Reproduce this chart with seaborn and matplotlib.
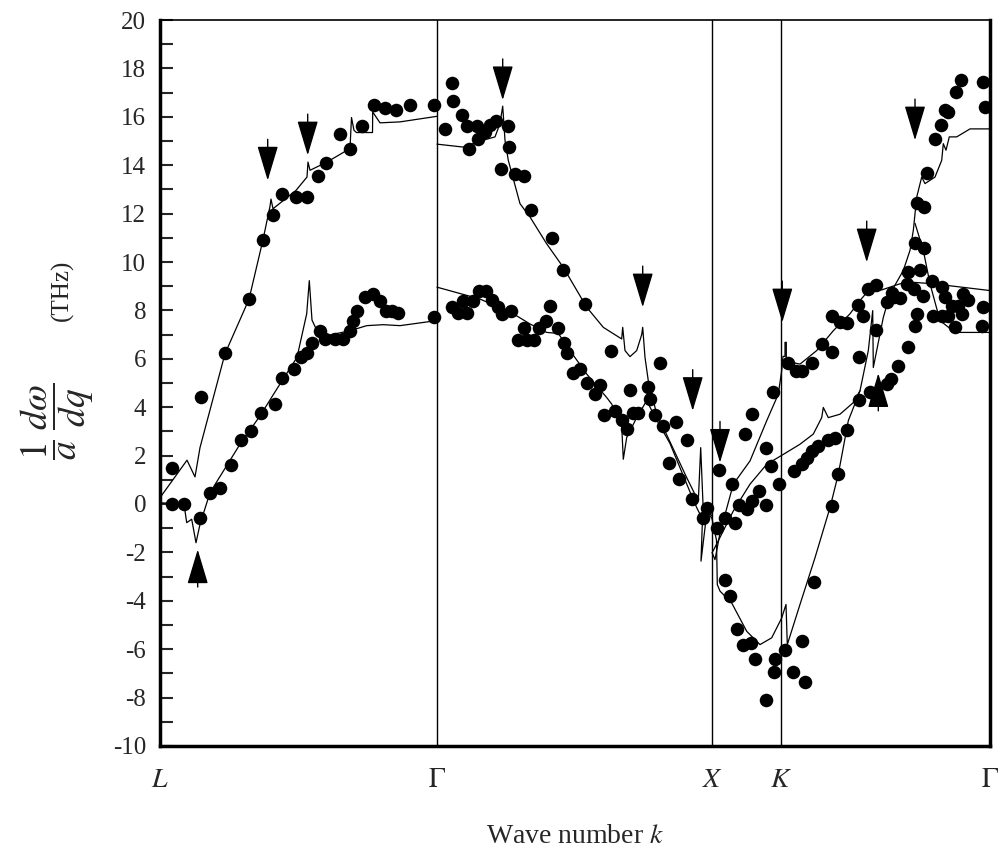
import numpy as np
import pandas as pd
import seaborn as sns
import matplotlib.pyplot as plt

sns.set_style('white')
plt.rcParams['font.family'] = ['Liberation Serif', 'DejaVu Serif']
plt.rcParams['mathtext.fontset'] = 'stix'

# symmetry points along the path (x in path units)
sym_pos = [0.0, 2.77, 5.52, 6.21, 8.30]
sym_labels = ['$L$', r'$\Gamma$', '$X$', '$K$', r'$\Gamma$']

# measured points (x, y)
pts_x = [0.12, 0.12, 0.243, 0.40, 0.413, 0.50, 0.603, 0.707, 0.81, 0.913, 1.013, 1.15, 1.22, 1.34, 1.41,
         1.473, 1.523, 1.597, 1.647, 1.75, 1.827, 1.90, 1.933, 1.97, 2.053, 2.133, 2.197, 2.26, 2.32, 2.383, 2.74,
         0.65, 0.893, 1.03, 1.133, 1.223, 1.357, 1.473, 1.58, 1.663, 1.897, 1.80, 2.017, 2.143, 2.25, 2.36, 2.497, 2.74,
         2.917, 2.933, 2.847, 3.023, 3.073, 3.167, 3.09, 3.183, 3.25, 3.30, 3.357, 3.477, 3.493, 3.407, 3.55, 3.64,
         3.707, 3.917, 4.033, 4.25, 4.507, 5.0, 4.70, 4.883,
         2.917, 2.983, 3.073, 3.033, 3.133, 3.193, 3.26, 3.317, 3.383, 3.417, 3.51, 3.64, 3.583, 3.667, 3.74, 3.793,
         3.86, 3.90, 3.983, 4.037, 4.067, 4.127, 4.20, 4.273, 4.40, 4.35, 4.44, 4.55, 4.617, 4.673, 4.733, 4.783,
         4.90, 4.95, 5.033, 5.16, 5.267, 5.093, 5.193, 5.317, 5.473, 5.433,
         5.593, 5.573, 5.65, 5.717, 5.65, 5.70, 5.75, 5.79, 5.867, 5.917, 5.99, 6.057, 5.85, 5.917, 6.06, 6.107, 6.19,
         6.127, 6.277, 6.357, 6.423, 6.517, 6.617, 6.723, 6.723, 6.80, 6.873, 6.983, 7.033, 6.993, 7.083, 7.157,
         7.16, 7.267, 7.317, 7.343, 7.40, 7.467, 7.483, 7.54, 7.60, 7.633, 7.717, 7.817, 7.85, 8.033, 8.083, 7.917,
         7.983, 8.233, 8.017, 7.733, 7.817, 7.883, 7.95, 8.217, 7.573, 7.55, 7.483, 7.383, 7.31, 7.267, 7.167, 7.10,
         6.993, 6.867, 6.783, 6.723, 6.543, 6.417, 6.25, 6.327, 6.45, 6.15, 6.14, 6.057, 5.95, 5.833, 5.907, 5.767,
         6.343, 6.417, 6.467, 6.517, 6.583, 6.677, 6.75,
         8.007, 8.233, 7.96, 8.25, 7.883, 7.85, 7.807, 7.75, 7.673, 7.567, 7.643, 7.55, 7.643]
pts_y = [1.5, 0.0, 0.0, -0.57, 4.43, 0.46, 0.66, 1.6, 2.64, 3.01, 3.76, 4.14, 5.2, 5.56, 6.06,
         6.22, 6.67, 7.16, 6.8, 6.8, 6.8, 7.16, 7.55, 7.99, 8.54, 8.68, 8.38, 7.99, 7.99, 7.9, 7.71,
         6.22, 8.46, 10.92, 11.95, 12.8, 12.7, 12.7, 13.55, 14.1, 14.67, 15.27, 15.6, 16.48, 16.37, 16.27, 16.48, 16.48,
         17.4, 16.66, 15.51, 16.09, 15.61, 15.61, 14.69, 15.07, 15.37, 15.65, 15.83, 15.61, 14.75, 13.86, 13.65, 13.54,
         12.13, 11.0, 9.69, 8.27, 6.31, 5.83, 4.71, 4.82,
         8.13, 7.88, 7.88, 8.38, 8.38, 8.79, 8.79, 8.43, 8.16, 7.86, 7.99, 7.28, 6.78, 6.78, 6.78, 7.28,
         7.55, 8.19, 7.28, 6.67, 6.22, 5.4, 5.58, 5.02, 4.92, 4.54, 3.67, 3.85, 3.47, 3.09, 3.76, 3.76,
         4.34, 3.67, 3.23, 3.40, 2.64, 1.71, 1.05, 0.19, -0.15, -0.57,
         1.40, -0.98, -0.57, 0.82, -3.12, -3.81, -0.77, -0.04, -0.22, 0.12, 0.54, -0.04, 2.89, 3.71, 2.33, 1.55, 0.82,
         4.61, 5.81, 5.51, 5.51, 5.81, 6.61, 6.27, 7.76, 7.51, 7.47, 8.24, 7.78, 6.09, 8.89, 9.03,
         7.19, 8.34, 8.71, 8.54, 8.52, 9.10, 9.58, 8.89, 9.65, 8.61, 9.2, 8.96, 8.54, 8.68, 8.43, 8.2,
         8.2, 8.13, 7.86, 7.76, 7.76, 7.76, 7.33, 7.37, 7.86, 7.37, 6.47, 5.71, 5.16, 4.96, 4.40, 4.61,
         4.29, 3.05, 1.26, -0.1, -3.22, -5.65, -6.03, -6.96, -7.36, -6.39, -6.96, -8.09, -6.39, -5.84, -5.74, -5.16,
         1.37, 1.67, 1.92, 2.19, 2.40, 2.64, 2.72,
         17.52, 17.42, 17.03, 16.39, 16.2, 16.27, 15.65, 15.07, 13.68, 12.43, 12.27, 10.78, 10.57]

# calculated curves
c1_x = [0, 0.27, 0.35, 0.40, 0.65, 0.89, 1.03, 1.10, 1.11, 1.13, 1.36, 1.47, 1.48, 1.50, 1.67, 1.90, 1.915,
        1.94, 1.965, 2.125, 2.127, 2.20, 2.40, 2.77]
c1_y = [0.26, 1.81, 1.12, 2.33, 6.21, 8.46, 10.92, 12.3, 12.6, 12.2, 12.96, 13.51, 14.13, 13.79, 14.13, 14.69,
        15.97, 15.44, 15.35, 15.35, 16.2, 15.75, 15.79, 16.02]
c2_x = [0, 0.24, 0.267, 0.317, 0.36, 0.40, 0.50, 0.80, 1.0, 1.2, 1.37, 1.467, 1.493, 1.52, 1.60, 1.90, 2.067,
        2.233, 2.40, 2.77]
c2_y = [0.05, 0.0, -0.77, -0.63, -1.6, -0.84, 0.47, 2.47, 3.64, 4.96, 6.06, 7.86, 9.23, 7.6, 6.9, 7.16, 7.37,
        7.41, 7.37, 7.58]
c3_x = [2.77, 3.03, 3.23, 3.35, 3.40, 3.427, 3.45, 3.483, 3.60, 3.70, 3.867, 4.033, 4.267, 4.433, 4.617, 4.627,
        4.65, 4.70, 4.767, 4.817, 4.827, 4.85, 4.883, 4.917, 4.967, 5.033, 5.267, 5.383, 5.407, 5.43, 5.41, 5.47, 5.52]
c3_y = [14.87, 14.75, 15.03, 15.17, 15.72, 16.44, 15.03, 14.2, 12.41, 11.86, 10.75, 9.78, 8.13, 7.30, 6.82, 7.3,
        6.34, 6.09, 6.34, 7.0, 7.3, 6.06, 5.09, 4.54, 3.71, 3.16, 1.09, 0.12, 2.33, 0.0, -2.36, -0.3, -0.6]
c4_x = [2.77, 3.20, 3.533, 3.70, 3.867, 3.983, 4.10, 4.267, 4.467, 4.517, 4.617, 4.633, 4.667, 4.767, 4.867,
        4.95, 5.10, 5.30, 5.367, 5.433, 5.483, 5.52]
c4_y = [8.96, 8.47, 7.86, 7.44, 7.09, 7.05, 6.34, 5.37, 4.40, 4.13, 3.23, 1.85, 2.75, 3.57, 4.27, 3.6, 2.5,
        0.5, -0.15, -0.7, -0.29, -0.5]
c5_x = [5.52, 5.565, 5.573, 5.60, 5.717, 5.867, 6.0, 6.117, 6.217, 6.26, 6.273, 6.40, 6.55, 6.70, 6.783, 6.883,
        7.0, 7.083, 7.127, 7.133, 7.233, 7.30, 7.433, 7.50, 7.533, 7.567, 7.617, 7.65, 7.75, 7.817, 7.833, 7.86,
        7.893, 7.967, 8.10, 8.30]
c5_y = [-0.6, -1.5, -3.33, -3.6, -4.09, -5.26, -5.81, -5.53, -4.71, -4.15, -5.81, -4.15, -2.22, -0.15, 1.23, 3.44,
        4.68, 6.34, 7.99, 5.64, 7.71, 8.68, 9.65, 10.48, 11.3, 12.68, 13.51, 13.24, 13.51, 14.2, 14.89, 14.62,
        15.17, 15.17, 15.5, 15.5]
c6_x = [5.52, 5.55, 5.60, 5.733, 5.90, 6.067, 6.183, 6.217, 6.23, 6.25, 6.25, 6.263, 6.263, 6.40, 6.567, 6.733,
        6.90, 7.0, 7.10, 7.22, 7.40, 7.533, 7.733, 8.30]
c6_y = [-2.0, -2.3, -1.2, 0.82, 1.78, 3.44, 4.54, 5.51, 6.1, 6.1, 6.68, 6.68, 5.9, 5.78, 6.34, 7.16,
        7.86, 8.41, 8.89, 8.85, 9.1, 9.16, 9.1, 8.82]
c7_x = [5.53, 5.733, 5.90, 6.067, 6.233, 6.40, 6.533, 6.617, 6.633, 6.683, 6.80, 6.933, 7.0]
c7_y = [-1.95, -0.29, 0.82, 1.64, 2.05, 2.47, 2.89, 3.57, 3.99, 3.57, 3.71, 4.19, 4.68]
c8_x = [7.55, 7.633, 7.70, 7.80, 7.95, 8.30]
c8_y = [11.6, 10.48, 9.1, 7.58, 7.09, 7.09]

# arrow tips
down_x = [1.077, 1.477, 3.427, 4.827, 5.327, 5.60, 6.223, 7.067, 7.55]
down_y = [13.37, 14.41, 16.69, 8.13, 3.85, 1.71, 7.51, 9.99, 15.03]
up_x = [0.377, 7.183]
up_y = [-1.88, 5.4]

fig = plt.figure(figsize=(10.06, 8.51), dpi=100)
ax = fig.add_axes([160/1006, 105/851, 830/1006, 726/851])

for p in sym_pos[1:4]:
    ax.axvline(p, color='black', lw=1.0, zorder=1)

curves = [(c1_x, c1_y), (c2_x, c2_y), (c3_x, c3_y), (c4_x, c4_y),
          (c5_x, c5_y), (c6_x, c6_y), (c7_x, c7_y), (c8_x, c8_y)]
for cx, cy in curves:
    sns.lineplot(x=cx, y=cy, sort=False, estimator=None, color='black', lw=0.9, ax=ax)

pts = pd.DataFrame({'k': pts_x, 'w': pts_y})
sns.scatterplot(data=pts, x='k', y='w', color='black', s=95, edgecolor='black', linewidth=0, ax=ax, zorder=3)

for x, y in zip(down_x, down_y):
    ax.annotate('', xy=(x, y), xytext=(x, y + 1.7),
                arrowprops=dict(arrowstyle='-|>,head_length=1.1,head_width=0.33', mutation_scale=20,
                                color='black', lw=1, shrinkA=0, shrinkB=0), zorder=4)
for x, y in zip(up_x, up_y):
    ax.annotate('', xy=(x, y), xytext=(x, y - 1.55),
                arrowprops=dict(arrowstyle='-|>,head_length=1.1,head_width=0.33', mutation_scale=20,
                                color='black', lw=1, shrinkA=0, shrinkB=0), zorder=4)

ax.set_xlim(0, 8.30)
ax.set_ylim(-10, 20)
ax.set_xticks(sym_pos)
ax.set_xticklabels(sym_labels, fontsize=20)
ax.tick_params(axis='x', length=0, pad=16)
ax.set_yticks(np.arange(-10, 21, 2))
ax.set_yticklabels([str(v) for v in range(-10, 21, 2)], fontsize=18)
ax.set_yticks(np.arange(-9, 20, 2), minor=True)
ax.tick_params(axis='y', which='both', direction='in', length=9, width=1.5, left=True, right=False, pad=10)

for side in ['left', 'bottom', 'right']:
    ax.spines[side].set_linewidth(2.5)
ax.spines['top'].set_linewidth(1.2)
for s in ax.spines.values():
    s.set_color('black')

ax.set_xlabel('Wave number $k$', fontsize=20, labelpad=22)
ax.set_ylabel('')
# y label: big fraction plus unit
fig.text(57/1006, 1 - 421/851, r'$\dfrac{1}{a}\;\dfrac{d\omega}{dq}$', fontsize=27, rotation=90,
         ha='center', va='center')
fig.text(62/1006, 1 - 290/851, '(THz)', fontsize=18, rotation=90, ha='center', va='center')

fig.savefig('out.png', dpi=100)
